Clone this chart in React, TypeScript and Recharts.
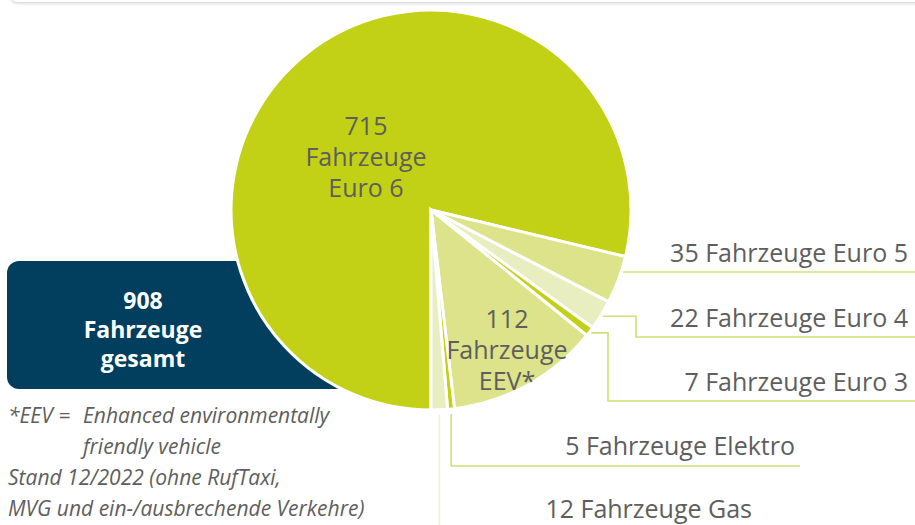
import { PieChart, Pie, Cell } from 'recharts';

const categories = ['Euro 6', 'Euro 5', 'Euro 4', 'Euro 3', 'EEV*', 'Elektro', 'Gas'];
const counts = [715, 35, 22, 7, 112, 5, 12];
const sliceColors = ['#c2d116', '#dce38a', '#e9eec0', '#c2d116', '#dce38a', '#c2d116', '#e9eec0'];

const total = counts.reduce((s, v) => s + v, 0);

const data = categories.map((name, i) => ({ name, value: counts[i] }));

const FONT = '"Open Sans", "Noto Sans", sans-serif';
const TEXT = '#5e5e5e';
const LEADER = '#d3de74';
const RAD = Math.PI / 180;

// inner labels (multi-line), outer labels with routed leader lines
type LabelCfg =
  | { kind: 'inner'; x: number; y: number }
  | { kind: 'h'; lineY: number; endX: number; tx: number; ty: number }
  | { kind: 'elbow'; elbowX: number; lineY: number; endX: number; tx: number; ty: number }
  | { kind: 'v'; lineY: number; endX: number; tx: number; ty: number; color?: string };

const labelLayout: LabelCfg[] = [
  { kind: 'inner', x: 366, y: 125 },
  { kind: 'h', lineY: 272, endX: 915, tx: 908, ty: 252 },
  { kind: 'elbow', elbowX: 636, lineY: 337, endX: 915, tx: 908, ty: 317 },
  { kind: 'elbow', elbowX: 608, lineY: 401, endX: 915, tx: 908, ty: 381 },
  { kind: 'inner', x: 507, y: 318 },
  { kind: 'v', lineY: 466, endX: 800, tx: 795, ty: 445 },
  { kind: 'v', lineY: 530, endX: 441, tx: 752, ty: 508, color: '#eef2d2' },
];

const renderLabel = (props: any) => {
  const { cx, cy, midAngle, outerRadius, index } = props;
  const cfg = labelLayout[index];
  const count = counts[index];
  const name = categories[index];
  if (cfg.kind === 'inner') {
    return (
      <text x={cfg.x} y={cfg.y} textAnchor="middle" dominantBaseline="central" fill={TEXT} fontFamily={FONT} fontSize={25}>
        <tspan x={cfg.x} dy={0}>{count}</tspan>
        <tspan x={cfg.x} dy={31}>Fahrzeuge</tspan>
        <tspan x={cfg.x} dy={31}>{name}</tspan>
      </text>
    );
  }
  const r = outerRadius + 2;
  let d = '';
  if (cfg.kind === 'h') {
    const dy = cfg.lineY - cy;
    const sx = cx + Math.sqrt(r * r - dy * dy);
    d = `M${sx},${cfg.lineY}H${cfg.endX}`;
  } else {
    const sx = cx + r * Math.cos(midAngle * RAD);
    const sy = cy - r * Math.sin(midAngle * RAD);
    if (cfg.kind === 'elbow') {
      d = `M${sx},${sy}H${cfg.elbowX}V${cfg.lineY}H${cfg.endX}`;
    } else {
      d = `M${sx},${sy + 3}V${cfg.lineY}H${cfg.endX}`;
    }
  }
  const stroke = cfg.kind === 'v' && cfg.color ? cfg.color : LEADER;
  return (
    <g>
      <path d={d} fill="none" stroke={stroke} strokeWidth={1.6} />
      <text x={cfg.tx} y={cfg.ty} textAnchor="end" dominantBaseline="central" fill={TEXT} fontFamily={FONT} fontSize={25}>
        {`${count} Fahrzeuge ${name}`}
      </text>
    </g>
  );
};

export default function App() {
  return (
    <div style={{ position: 'absolute', left: 0, top: 0, width: 915, height: 525, background: '#fff', overflow: 'hidden', fontFamily: FONT }}>
      {/* bottom edge of the card above */}
      <div style={{ position: 'absolute', left: 10, top: -12, width: 920, height: 14, borderBottom: '1px solid #dedede', borderBottomLeftRadius: 8, boxShadow: '0 1px 3px rgba(0,0,0,0.12)' }} />

      {/* total box, right part hidden behind the pie */}
      <div style={{ position: 'absolute', left: 7, top: 261, width: 340, height: 128, background: '#023f5e', borderRadius: 12, color: '#fff', fontWeight: 700, fontSize: 23, lineHeight: '29px' }}>
        <div style={{ position: 'absolute', left: 36, width: 200, top: 25, textAlign: 'center' }}>
          <div>{total}</div>
          <div>Fahrzeuge</div>
          <div>gesamt</div>
        </div>
      </div>

      {/* footnote */}
      <div style={{ position: 'absolute', left: 8, top: 400, color: TEXT, fontStyle: 'italic', fontSize: 21, lineHeight: '31px', whiteSpace: 'nowrap' }}>
        <div><span style={{ display: 'inline-block', width: 75 }}>*EEV =</span>Enhanced environmentally</div>
        <div><span style={{ display: 'inline-block', width: 75 }} />friendly vehicle</div>
        <div>Stand 12/2022 (ohne RufTaxi,</div>
        <div>MVG und ein-/ausbrechende Verkehre)</div>
      </div>

      <div style={{ position: 'absolute', left: 0, top: 0 }}>
        <PieChart width={915} height={525} margin={{ top: 0, right: 0, bottom: 0, left: 0 }}>
          <Pie
            data={data}
            dataKey="value"
            nameKey="name"
            cx={431}
            cy={210}
            outerRadius={200}
            startAngle={270}
            endAngle={-90}
            stroke="#ffffff"
            strokeWidth={3}
            label={renderLabel}
            labelLine={false}
            isAnimationActive={false}
          >
            {data.map((d, i) => (
              <Cell key={d.name} fill={sliceColors[i]} />
            ))}
          </Pie>
        </PieChart>
      </div>
    </div>
  );
}
